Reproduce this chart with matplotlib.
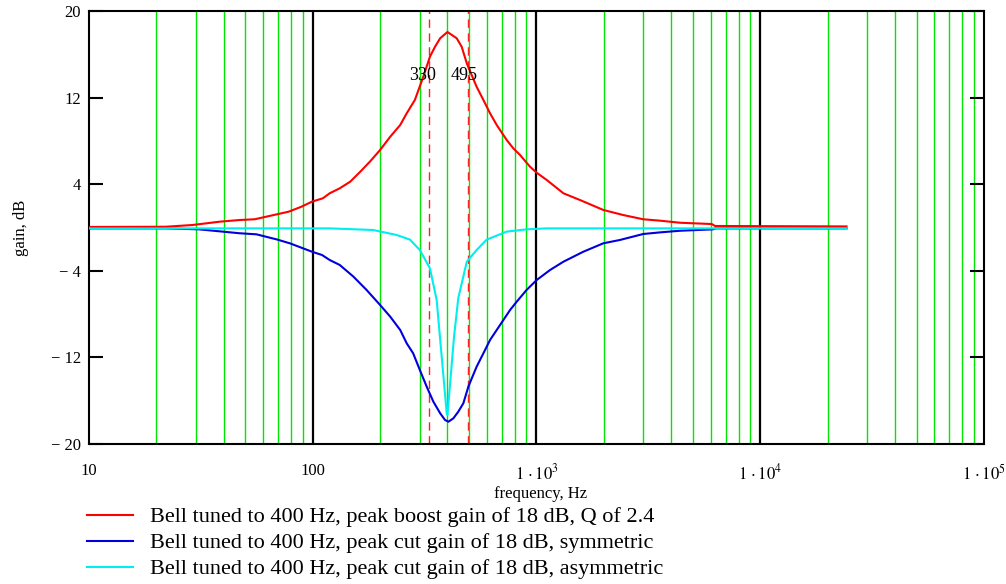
import numpy as np
import matplotlib.pyplot as plt
from matplotlib.ticker import FixedLocator, FixedFormatter, NullFormatter

plt.rcParams['font.family'] = ['Liberation Serif', 'DejaVu Serif']
plt.rcParams['mathtext.fontset'] = 'stix'

# Bell filter responses, gain in dB against frequency in Hz
freq_boost = [10, 22, 29, 38.5, 47, 55, 62, 78, 89, 99, 111, 119, 132, 147, 163, 180, 200,
              222, 246, 263, 286, 312, 334, 352, 371, 400, 440, 463, 488, 513, 540, 579, 620,
              664, 736, 788, 844, 935, 1002, 1111, 1319, 1564, 1989, 2443, 3000, 3570, 4380,
              6070, 6280, 24300]
gain_boost = [0.05, 0.07, 0.23, 0.54, 0.69, 0.76, 1.0, 1.46, 1.92, 2.38, 2.7, 3.16, 3.62,
              4.23, 5.15, 6.08, 7.16, 8.39, 9.47, 10.55, 11.78, 13.93, 15.78, 16.7, 17.48,
              18.06, 17.48, 16.7, 15.17, 14.09, 13.0, 11.78, 10.55, 9.47, 8.08, 7.31, 6.7,
              5.62, 5.06, 4.39, 3.16, 2.54, 1.62, 1.15, 0.76, 0.63, 0.44, 0.32, 0.14, 0.1]

freq_sym = [10, 22, 31, 47, 56, 69, 79, 99, 110, 119, 132, 152, 174, 200, 222, 246, 263, 281,
            301, 323, 346, 371, 390, 404, 425, 447, 471, 496, 540, 579, 620, 664, 711, 762,
            816, 903, 1002, 1149, 1319, 1618, 1989, 2361, 3000, 3570, 4380, 6150, 6300, 24300]
gain_sym = [-0.08, -0.08, -0.17, -0.53, -0.63, -1.1, -1.46, -2.23, -2.54, -3.0, -3.46, -4.54,
            -5.77, -7.16, -8.24, -9.47, -10.7, -11.62, -13.16, -14.7, -16.09, -17.16, -17.78,
            -17.94, -17.63, -17.02, -16.24, -14.7, -12.86, -11.62, -10.39, -9.47, -8.55,
            -7.62, -6.85, -5.77, -4.85, -3.93, -3.16, -2.24, -1.46, -1.15, -0.6, -0.45, -0.3,
            -0.17, -0.08, -0.08]

freq_asym = [10, 119, 186, 237, 272, 301, 334, 358, 377, 397, 400, 428, 447, 488, 540, 599,
             736, 903, 1111, 24300]
gain_asym = [-0.08, -0.08, -0.23, -0.69, -1.12, -2.08, -3.77, -6.7, -11.94, -17.17, -17.32,
             -10.09, -6.54, -3.16, -2.08, -1.12, -0.38, -0.17, -0.08, -0.08]

band_edges = [330, 495]

legend_labels = [
    "Bell tuned to 400 Hz, peak boost gain of 18 dB, Q of 2.4",
    "Bell tuned to 400 Hz, peak cut gain of 18 dB, symmetric",
    "Bell tuned to 400 Hz, peak cut gain of 18 dB, asymmetric",
]
line_colors = ['#ff0000', '#0000dd', '#00eeee']

y_ticks = [-20, -12, -4, 4, 12, 20]
y_tick_labels = ['\u2212 20', '\u2212 12', '\u2212 4', '4', '12', '20']
x_ticks = [10, 100, 1e3, 1e4, 1e5]
x_tick_labels = ['10', '100', r'$1\,\cdot 10^{3}$', r'$1\,\cdot 10^{4}$', r'$1\,\cdot 10^{5}$']

fig = plt.figure(figsize=(10.06, 5.84), dpi=100)
ax = fig.add_axes([89 / 1006, 1 - 444 / 584, (984 - 89) / 1006, (444 - 11) / 584])

ax.set_xscale('log')
ax.set_xlim(10, 1e5)
ax.set_ylim(-20, 20)

# vertical grid: green for 2..9 in each decade, black at the decades
minor = [m * 10 ** d for d in range(1, 5) for m in range(2, 10)]
for f in minor:
    ax.axvline(f, color='#00e600', lw=1.0, zorder=1)
for f in [100, 1e3, 1e4]:
    ax.axvline(f, color='black', lw=1.6, zorder=1)

for f, dx in zip(band_edges, [-4.5, -3]):
    ax.axvline(f, color='#ff2020', lw=1.0, ls=(0, (6, 4)), zorder=2)
    ax.annotate(str(f), (f, 14.0), xytext=(dx, 0), textcoords='offset points',
                ha='center', va='center', fontsize=13, zorder=5)

ax.plot(freq_boost, gain_boost, color=line_colors[0], lw=1.5, zorder=3)
ax.plot(freq_sym, gain_sym, color=line_colors[1], lw=1.5, zorder=3)
ax.plot(freq_asym, gain_asym, color=line_colors[2], lw=1.5, zorder=4)

ax.xaxis.set_major_locator(FixedLocator(x_ticks))
ax.xaxis.set_major_formatter(FixedFormatter(x_tick_labels))
ax.xaxis.set_minor_formatter(NullFormatter())
ax.tick_params(axis='x', which='both', length=0, pad=14, labelsize=12)

ax.set_yticks(y_ticks)
ax.set_yticklabels(y_tick_labels)
ax.tick_params(axis='y', direction='in', length=10, width=1.5, labelsize=12,
               right=True, pad=6)

for side in ['left', 'bottom', 'top', 'right']:
    ax.spines[side].set_linewidth(1.5)

fig.text(541 / 1006, 1 - 494 / 584, 'frequency, Hz', ha='center', va='center', fontsize=12)
fig.text(21 / 1006, 1 - 228 / 584, 'gain, dB', ha='center', va='center', fontsize=12,
         rotation=90)

# legend drawn by hand below the axes
for i, (label, color) in enumerate(zip(legend_labels, line_colors)):
    y = 1 - (515 + i * 26) / 584
    fig.add_artist(plt.Line2D([87 / 1006, 133 / 1006], [y, y], color=color, lw=1.5))
    fig.text(150 / 1006, 1 - (517 + i * 26) / 584, label, ha='left', va='center',
             fontsize=16)

fig.savefig('out.png', dpi=100)
